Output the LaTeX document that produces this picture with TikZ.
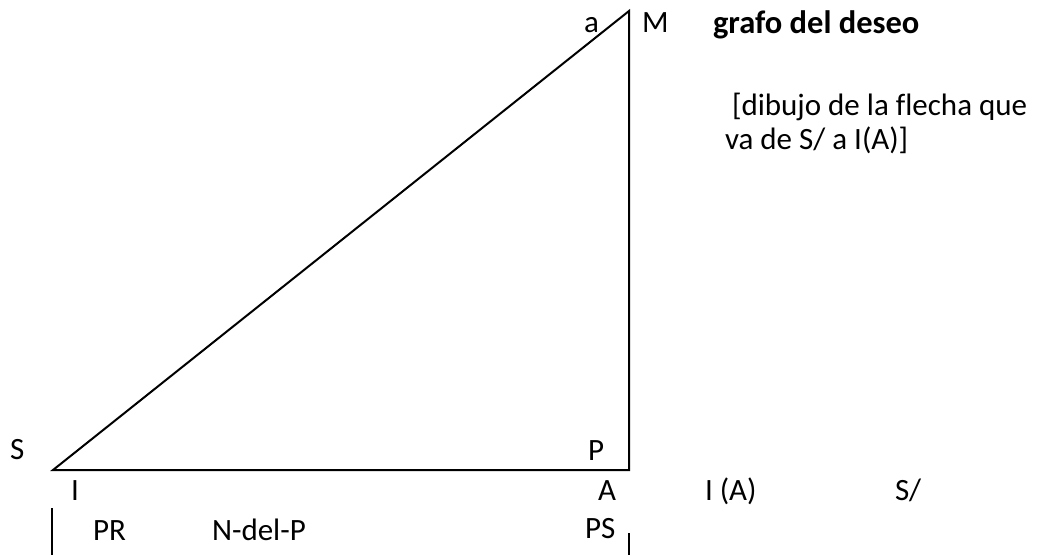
\documentclass[tikz,border=0pt]{standalone}
\usepackage{fontspec}
\setmainfont{Carlito}[Ligatures=NoCommon]
\begin{document}
\begin{tikzpicture}[x=1pt,y=-1pt,
  lbl/.style={inner sep=0pt,outer sep=0pt,anchor=base west,font=\fontsize{31}{37}\selectfont},
  edge/.style={line width=2pt,line join=miter}]
\useasboundingbox (0,0) rectangle (1038,555);
\coordinate (vS) at (53,470);
\coordinate (vA) at (629,470);
\coordinate (vM) at (629,11);
\draw[edge] (vS) -- (vA) -- (vM) -- cycle;
\coordinate (t1a) at (52,508);
\coordinate (t1b) at (52,555);
\coordinate (t2a) at (629,533);
\coordinate (t2b) at (629,555);
\draw[edge] (t1a) -- (t1b);
\draw[edge] (t2a) -- (t2b);
\node[lbl] (la) at (584,32) {a};
\node[lbl] (lM) at (642,32) {M};
\node[lbl,font=\fontsize{32.5}{38}\selectfont\bfseries] (title) at (713,33) {grafo del deseo};
\node[lbl] (note1) at (725,115) {\ [dibujo de la flecha que};
\node[lbl] (note2) at (725,149) {va de S/ a I(A)]};
\node[lbl] (lS) at (10,459) {S};
\node[lbl] (lP) at (588,460) {P};
\node[lbl] (lI) at (71,500) {I};
\node[lbl] (lA) at (598,500) {A};
\node[lbl] (lIA) at (705,500) {I (A)};
\node[lbl] (lSb) at (895,500) {S/};
\node[lbl] (lPR) at (93,540) {PR};
\node[lbl] (lN) at (212,540) {N-del-P};
\node[lbl] (lPS) at (585,538) {PS};
\end{tikzpicture}
\end{document}
